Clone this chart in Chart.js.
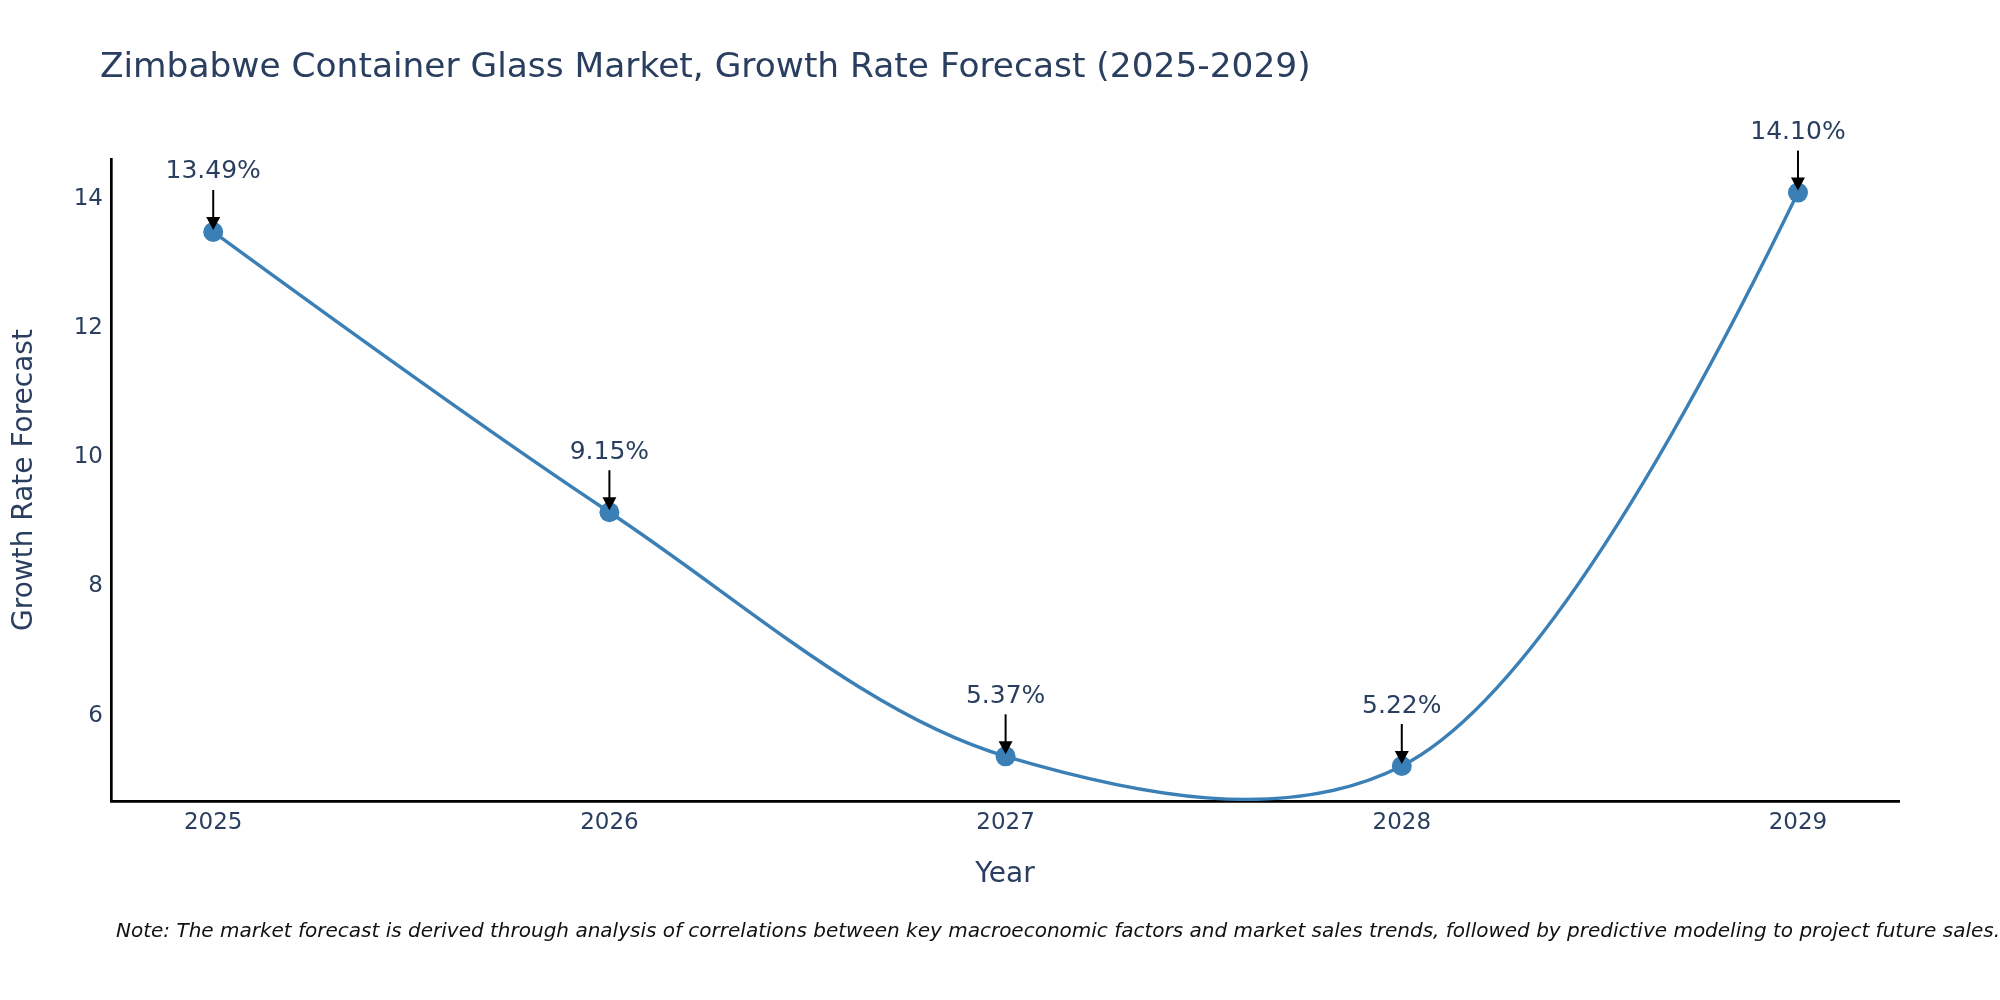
<!DOCTYPE html>
<html>
<head>
<meta charset="utf-8">
<script src="https://cdn.jsdelivr.net/npm/chart.js@4.4.1/dist/chart.umd.min.js"></script>
<style>
  html, body { margin: 0; padding: 0; background: #ffffff; }
  #wrap { width: 2000px; height: 1000px; position: relative; }
  canvas { display: block; }
</style>
</head>
<body>
<div id="wrap"><canvas id="chart" width="2000" height="1000"></canvas></div>
<script>
// ---- data ----
const years = [2025, 2026, 2027, 2028, 2029];
const growthRates = [13.49, 9.15, 5.37, 5.22, 14.10];
const xTickLabels = ['2025', '2026', '2027', '2028', '2029'];
const yTickValues = [6, 8, 10, 12, 14];
const yTickLabels = ['6', '8', '10', '12', '14'];
const annotationLabels = ['13.49%', '9.15%', '5.37%', '5.22%', '14.10%'];

const chartTitle = 'Zimbabwe Container Glass Market, Growth Rate Forecast (2025-2029)';
const xAxisTitle = 'Year';
const yAxisTitle = 'Growth Rate Forecast';
const noteText = 'Note: The market forecast is derived through analysis of correlations between key macroeconomic factors and market sales trends, followed by predictive modeling to project future sales.';

const FONT = '"DejaVu Sans", Verdana, sans-serif';
const TEXT_COLOR = '#2a3f5f';
const LINE_COLOR = '#3a7fb5';

const textPlugin = {
  id: 'textPlugin',
  afterDraw(chart) {
    const ctx = chart.ctx;
    ctx.save();
    ctx.fillStyle = TEXT_COLOR;
    ctx.font = '34.4px ' + FONT;
    ctx.textAlign = 'left';
    ctx.textBaseline = 'middle';
    ctx.fillText(chartTitle, 100, 68);
    ctx.fillStyle = '#111111';
    ctx.font = 'italic 20px ' + FONT;
    ctx.fillText(noteText, 116, 932);
    ctx.restore();
  }
};

// Centripetal spline smoothing for the line's bezier control points,
// computed from the element positions that Chart.js placed via its scales.
const smoothPlugin = {
  id: 'smoothPlugin',
  beforeDatasetDraw(chart, args) {
    const meta = args.meta;
    const line = meta.dataset;
    line.updateControlPoints(chart.chartArea, 'x');
    const pts = meta.data;
    const n = pts.length;
    if (n < 3) return;
    const e = 0.5, s = 1;
    const tang = [];
    for (let i = 1; i < n - 1; i++) {
      const p0 = pts[i - 1], p1 = pts[i], p2 = pts[i + 1];
      const d1x = p0.x - p1.x, d1y = p0.y - p1.y;
      const d2x = p2.x - p1.x, d2y = p2.y - p1.y;
      const d1a = Math.pow(d1x * d1x + d1y * d1y, e / 2);
      const d2a = Math.pow(d2x * d2x + d2y * d2y, e / 2);
      const numx = (d2a * d2a * d1x - d1a * d1a * d2x) * s;
      const numy = (d2a * d2a * d1y - d1a * d1a * d2y) * s;
      const den1 = 3 * d2a * (d1a + d2a);
      const den2 = 3 * d1a * (d1a + d2a);
      tang[i] = {
        bx: p1.x + (den1 ? numx / den1 : 0), by: p1.y + (den1 ? numy / den1 : 0),
        fx: p1.x - (den2 ? numx / den2 : 0), fy: p1.y - (den2 ? numy / den2 : 0)
      };
    }
    for (let i = 1; i < n - 1; i++) {
      pts[i].cp1x = tang[i].bx; pts[i].cp1y = tang[i].by;
      pts[i].cp2x = tang[i].fx; pts[i].cp2y = tang[i].fy;
    }
    // first segment: quadratic with control point tang[1].b
    const a = pts[0], b = pts[1];
    const qx = tang[1].bx, qy = tang[1].by;
    a.cp2x = a.x + 2 / 3 * (qx - a.x); a.cp2y = a.y + 2 / 3 * (qy - a.y);
    b.cp1x = b.x + 2 / 3 * (qx - b.x); b.cp1y = b.y + 2 / 3 * (qy - b.y);
    a.cp1x = a.x; a.cp1y = a.y;
    // last segment: quadratic with control point tang[n-2].f
    const c = pts[n - 2], d = pts[n - 1];
    const rx = tang[n - 2].fx, ry = tang[n - 2].fy;
    c.cp2x = c.x + 2 / 3 * (rx - c.x); c.cp2y = c.y + 2 / 3 * (ry - c.y);
    d.cp1x = d.x + 2 / 3 * (rx - d.x); d.cp1y = d.y + 2 / 3 * (ry - d.y);
    d.cp2x = d.x; d.cp2y = d.y;
    line._path = undefined;
  }
};

const annotationPlugin = {
  id: 'annotationPlugin',
  afterDatasetsDraw(chart) {
    const ctx = chart.ctx;
    const meta = chart.getDatasetMeta(0);
    ctx.save();
    meta.data.forEach((pt, i) => {
      const x = pt.x, y = pt.y;
      ctx.strokeStyle = '#000000';
      ctx.lineWidth = 2;
      ctx.beginPath();
      ctx.moveTo(x, y - 42);
      ctx.lineTo(x, y - 14);
      ctx.stroke();
      ctx.fillStyle = '#000000';
      ctx.beginPath();
      ctx.moveTo(x - 7, y - 15);
      ctx.lineTo(x + 7, y - 15);
      ctx.lineTo(x, y - 2);
      ctx.closePath();
      ctx.fill();
      ctx.fillStyle = TEXT_COLOR;
      ctx.font = '25px ' + FONT;
      ctx.textAlign = 'center';
      ctx.textBaseline = 'middle';
      ctx.fillText(annotationLabels[i], x, y - 60);
    });
    ctx.restore();
  }
};

new Chart(document.getElementById('chart'), {
  type: 'line',
  data: {
    datasets: [{
      data: years.map((yr, i) => ({ x: yr, y: growthRates[i] })),
      borderColor: LINE_COLOR,
      backgroundColor: LINE_COLOR,
      borderWidth: 3.4,
      tension: 0.3,
      pointRadius: 10,
      pointHoverRadius: 10,
      pointBorderWidth: 0,
      pointBackgroundColor: LINE_COLOR,
      fill: false
    }]
  },
  options: {
    responsive: false,
    animation: false,
    devicePixelRatio: 1,
    layout: { padding: { left: 0, right: 101, top: 159, bottom: 0 } },
    plugins: {
      legend: { display: false },
      tooltip: { enabled: false },
      title: { display: false }
    },
    scales: {
      x: {
        type: 'linear',
        min: 2024.742,
        max: 2029.255,
        grid: { display: false, drawTicks: false },
        border: { display: true, color: '#000000', width: 2.7 },
        afterBuildTicks: (s) => { s.ticks = years.map(v => ({ value: v })); },
        afterFit: (s) => { s.height = 199; },
        ticks: {
          padding: 8,
          color: TEXT_COLOR,
          font: { family: FONT, size: 23 },
          maxRotation: 0,
          callback: (v, idx) => xTickLabels[idx]
        },
        title: {
          display: true,
          text: xAxisTitle,
          color: TEXT_COLOR,
          font: { family: FONT, size: 28 },
          padding: { top: 0, bottom: 108 }
        }
      },
      y: {
        type: 'linear',
        min: 4.678,
        max: 14.62,
        grid: { display: false, drawTicks: false },
        border: { display: true, color: '#000000', width: 2.7 },
        afterBuildTicks: (s) => { s.ticks = yTickValues.map(v => ({ value: v })); },
        afterFit: (s) => { s.width = 111; },
        ticks: {
          padding: 8,
          color: TEXT_COLOR,
          font: { family: FONT, size: 23 },
          callback: (v, idx) => yTickLabels[idx]
        },
        title: {
          display: true,
          text: yAxisTitle,
          color: TEXT_COLOR,
          font: { family: FONT, size: 28 },
          padding: { top: 8, bottom: 0 }
        }
      }
    }
  },
  plugins: [textPlugin, smoothPlugin, annotationPlugin]
});
</script>
</body>
</html>
